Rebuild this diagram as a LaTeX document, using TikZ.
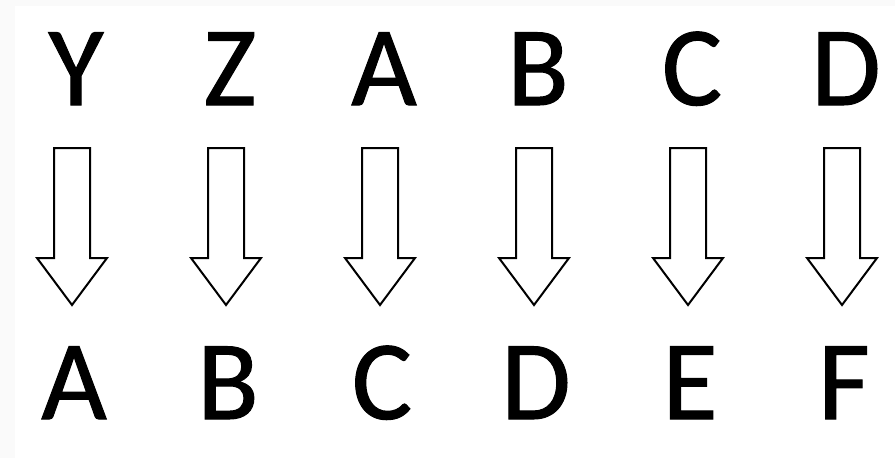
\documentclass[tikz,border=0pt]{standalone}
\usepackage{fontspec}
\setmainfont{Carlito}
\newfontfamily\letterfont{Carlito}[FakeBold=0.9]
\begin{document}
\begin{tikzpicture}[x=1pt,y=-1pt,
  letter/.style={font=\letterfont\fontsize{113}{113}\selectfont, anchor=base, inner sep=0pt},
  blockarrow/.style={draw=black, line width=2pt, fill=white, line join=miter}]
\useasboundingbox (0,0) rectangle (895,458);
\fill[white] (0,0) rectangle (895,458);
\fill[black!2] (0,0) rectangle (895,6);
\fill[black!2] (0,0) rectangle (15,458);
\foreach \t/\b [count=\i from 0] in {Y/A,Z/B,A/C,B/D,C/E,D/F} {
  \pgfmathsetmacro\cx{72+154*\i}
  \node[letter] (t\i) at (\cx+4,105) {\t};
  \node[letter] (b\i) at (\cx+2,419) {\b};
  \draw[blockarrow] (\cx-18,148) -- (\cx+18,148) -- (\cx+18,258) -- (\cx+35,258)
    -- (\cx,305) -- (\cx-35,258) -- (\cx-18,258) -- cycle;
}
\end{tikzpicture}
\end{document}
